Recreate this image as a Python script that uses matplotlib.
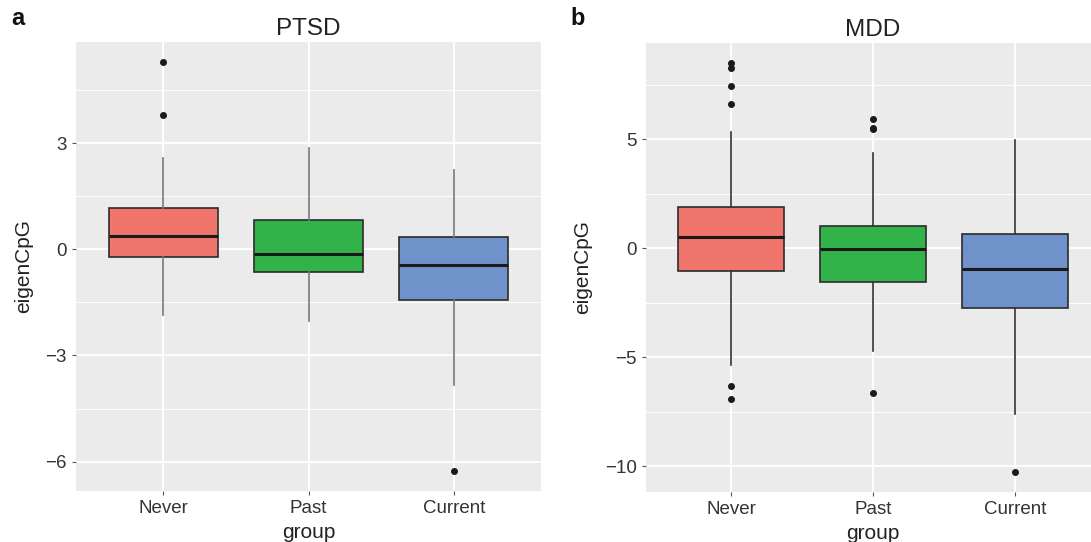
import matplotlib
matplotlib.use("Agg")
import matplotlib.pyplot as plt
from matplotlib.ticker import MultipleLocator

plt.rcParams['font.family'] = ['Liberation Sans', 'DejaVu Sans']

groups = ['Never', 'Past', 'Current']
colors = ['#F0756C', '#32B34A', '#6F92CB']

# PTSD panel (a)
ptsd_whislo = [-1.85, -2.03, -3.84]
ptsd_q1 = [-0.21, -0.64, -1.42]
ptsd_med = [0.39, -0.12, -0.45]
ptsd_q3 = [1.18, 0.82, 0.34]
ptsd_whishi = [2.57, 2.87, 2.23]
ptsd_fliers = [[5.29, 3.81], [], [-6.26]]

# MDD panel (b)
mdd_whislo = [-5.34, -4.70, -7.60]
mdd_q1 = [-1.02, -1.53, -2.73]
mdd_med = [0.53, -0.05, -0.93]
mdd_q3 = [1.90, 1.02, 0.67]
mdd_whishi = [5.34, 4.38, 4.97]
mdd_fliers = [[8.48, 8.29, 7.46, 6.60, -6.33, -6.90], [5.94, 5.53, 5.46, -6.63], [-10.26]]


def draw_panel(ax, title, lo, q1, med, q3, hi, fliers,
               ylim, major, minor, whisker_col):
    stats = []
    for i, g in enumerate(groups):
        stats.append(dict(label=g, whislo=lo[i], q1=q1[i], med=med[i],
                          q3=q3[i], whishi=hi[i], fliers=fliers[i]))
    ax.set_facecolor('#EBEBEB')
    ax.yaxis.set_major_locator(MultipleLocator(major))
    ax.yaxis.set_minor_locator(MultipleLocator(minor))
    ax.grid(True, which='major', color='white', lw=1.3)
    ax.grid(True, which='minor', axis='y', color='white', lw=0.7)
    ax.set_axisbelow(True)
    bp = ax.bxp(stats, positions=[1, 2, 3], widths=0.75, patch_artist=True,
                showcaps=False,
                boxprops=dict(edgecolor='#2b2b2b', lw=1.2),
                medianprops=dict(color='#1a1a1a', lw=2.2),
                whiskerprops=dict(color=whisker_col, lw=1.2),
                flierprops=dict(marker='o', markerfacecolor='#1a1a1a',
                                markeredgecolor='#1a1a1a', markersize=4))
    for patch, c in zip(bp['boxes'], colors):
        patch.set_facecolor(c)
    ax.set_xlim(0.4, 3.6)
    ax.set_ylim(*ylim)
    for s in ax.spines.values():
        s.set_visible(False)
    ax.tick_params(axis='both', which='major', length=3, color='#555555',
                   labelsize=13.5, labelcolor='#333333')
    ax.tick_params(axis='y', which='minor', length=0)
    ax.set_yticklabels([f'{t:g}'.replace('-', '\u2212') for t in ax.get_yticks()])
    ax.set_ylim(*ylim)
    ax.set_xlabel('group', fontsize=15, color='#222222', labelpad=4)
    ax.set_ylabel('eigenCpG', fontsize=15, color='#222222', labelpad=9)
    ax.set_title(title, fontsize=17.5, color='#222222', pad=5)


fig = plt.figure(figsize=(10.91, 5.42), dpi=100)
W, H = 1091, 542
ax1 = fig.add_axes([76 / W, 1 - 491 / H, 465 / W, 449 / H])
ax2 = fig.add_axes([646 / W, 1 - 492 / H, 454 / W, 449 / H])

draw_panel(ax1, 'PTSD', ptsd_whislo, ptsd_q1, ptsd_med, ptsd_q3,
           ptsd_whishi, ptsd_fliers, (-6.83, 5.86), 3, 1.5, '#777777')
draw_panel(ax2, 'MDD', mdd_whislo, mdd_q1, mdd_med, mdd_q3,
           mdd_whishi, mdd_fliers, (-11.18, 9.42), 5, 2.5, '#333333')

fig.text(11 / W, 1 - 25 / H, 'a', fontsize=17, fontweight='bold', color='#111111')
fig.text(570 / W, 1 - 25 / H, 'b', fontsize=17, fontweight='bold', color='#111111')

fig.savefig('out.png', dpi=100)
